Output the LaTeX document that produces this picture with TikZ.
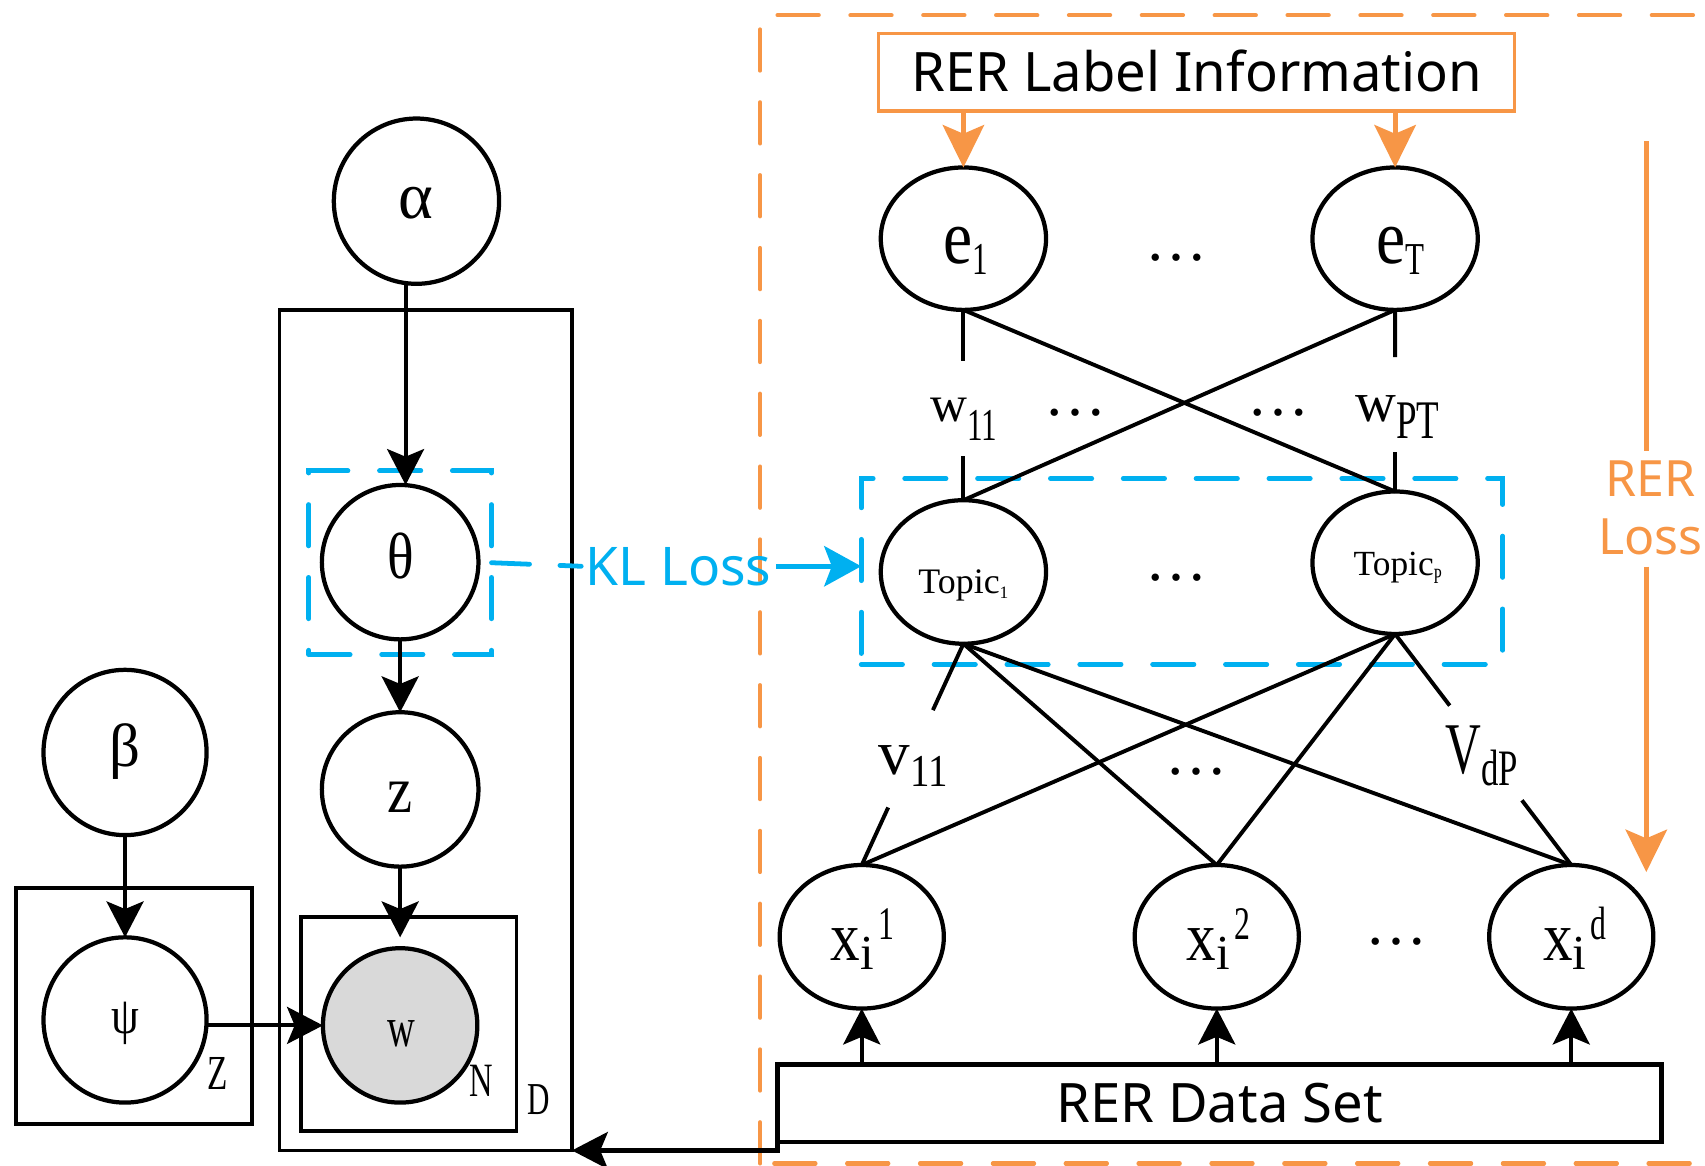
\documentclass[tikz,border=0pt]{standalone}
\usepackage{fontspec}
\setmainfont{Liberation Serif}
\newfontfamily\sA{Liberation Serif}
\newfontfamily\sB[FakeStretch=0.85]{Liberation Serif}
\newfontfamily\sC[FakeStretch=0.68]{Liberation Serif}
\newfontfamily\sansf{Noto Sans}
\usetikzlibrary{arrows.meta,shapes.geometric,calc}
\definecolor{myorange}{HTML}{F79646}
\definecolor{myblue}{HTML}{00B0F0}
\definecolor{mygray}{HTML}{D9D9D9}
\newcommand\fsz[1]{\fontsize{#1}{#1}\selectfont}
\begin{document}
\begin{tikzpicture}[x={(0.5pt,0)}, y={(0,-0.5pt)},
  var/.style={ellipse, draw, line width=1.95pt, inner sep=0, outer sep=0},
  plate/.style={rectangle, draw, line width=1.8pt, inner sep=0, outer sep=0},
  bdash/.style={rectangle, draw=myblue, line width=2.2pt, dash pattern=on 19pt off 14.5pt, line cap=round, inner sep=0, outer sep=0},
  arr/.style={line width=1.9pt, -{Stealth[length=16.5pt,width=17pt,inset=3.5pt]}},
  oarr/.style={draw=myorange, line width=2.3pt, -{Stealth[length=19.5pt,width=19pt,inset=4pt, fill=myorange]}},
  link/.style={line width=1.8pt},
  lab/.style={inner sep=0, outer sep=0, anchor=base},
]
\useasboundingbox (0,0) rectangle (1568,1072);
\clip (0,0) rectangle (1568,1072);

% ---------- outer orange dashed frame ----------
\draw[myorange, line width=1.85pt, dash pattern=on 19pt off 14.5pt, line cap=round]
  (699,1070) -- (699,14) -- (1620,14);
\draw[myorange, line width=1.85pt, dash pattern=on 19pt off 14.5pt, line cap=round]
  (712,1070) -- (1620,1070);

% ---------- left: plates ----------
\node[plate, minimum width=134.5pt, minimum height=386.5pt] (Dp) at (391.5,671.5) {};
\node[plate, minimum width=99pt, minimum height=98.5pt] (Np) at (376,941.5) {};
\node[plate, minimum width=108.5pt, minimum height=108.5pt] (Zp) at (123.5,925.5) {};
\node[lab] (Dt) at (495,1025) {\sC\fsz{21pt}D};
\node[lab] (Nt) at (443,1008) {\sC\fsz{22pt}N};
\node[lab] (Zt) at (200,1001.6) {\sC\fsz{22.5pt}Z};

% ---------- left: variables ----------
\node[var, minimum width=76pt, minimum height=76pt] (alpha) at (383,185) {};
\node[var, minimum width=72pt, minimum height=71pt] (theta) at (368,517) {};
\node[var, minimum width=72pt, minimum height=71pt] (z) at (368,726) {};
\node[var, fill=mygray, minimum width=71pt, minimum height=71pt] (w) at (368,943) {};
\node[var, minimum width=75pt, minimum height=76pt] (beta) at (115,692) {};
\node[var, minimum width=75pt, minimum height=76pt] (psi) at (115,938) {};
\node[bdash, minimum width=84pt, minimum height=84.5pt] (thbox) at (368,517.5) {};

\node[lab] (alphat) at (382,200.5) {\sA\fsz{30.5pt}α};
\node[lab] (thetat) at (369,532) {\sB\fsz{30pt}θ};
\node[lab] (zt) at (368,747.6) {\sB\fsz{30.5pt}z};
\node[lab] (wt) at (369,962) {\sC\fsz{26pt}w};
\node[lab] (betat) at (115,705) {\sA\fsz{28pt}β};
\node[lab] (psit) at (115.5,950) {\sB\fsz{24pt}ψ};

\draw[arr] ([xshift=-5pt]alpha.south) -- ([xshift=2.5pt]theta.north);
\draw[arr] (theta.south) -- (z.north);
\draw[arr, shorten >=5pt] (z.south) -- (w.north);
\draw[arr] (beta.south) -- (psi.north);
\draw[arr] (psi.east |- w.west) -- (w.west);

% ---------- right: label information ----------
\node[draw=myorange, line width=1.6pt, minimum width=292.5pt, minimum height=35.5pt,
      inner sep=0, outer sep=0, text height=17.85pt, text depth=0pt,
      font=\sansf\fsz{25pt}] (lbl) at (1100.5,66.5) {RER Label Information};

\node[var, minimum width=76pt, minimum height=65.5pt] (e1) at (886,219.5) {};
\node[var, minimum width=76pt, minimum height=65.5pt] (eT) at (1283,219.5) {};
\node[var, minimum width=76pt, minimum height=66pt] (t1) at (886,526) {};
\node[var, minimum width=76pt, minimum height=65.5pt] (tP) at (1283,517.5) {};
\node[var, minimum width=75.5pt, minimum height=66pt] (x1) at (792.5,861.5) {};
\node[var, minimum width=75.5pt, minimum height=66pt] (x2) at (1119,861.5) {};
\node[var, minimum width=75.5pt, minimum height=66pt] (xd) at (1445,861.5) {};
\node[bdash, minimum width=295pt, minimum height=85.5pt] (tbox) at (1087,525.5) {};

\node[draw, line width=1.9pt, minimum width=406.5pt, minimum height=35.5pt,
      inner sep=0, outer sep=0, font=\sansf\fsz{25pt}] (data) at (1121.5,1014.5) {RER Data Set};

% labels in the ellipses
\node[lab] (e1t) at (888,242) {\sB\fsz{35.5pt}e\raisebox{-5pt}{\sC\fsz{21pt}1}};
\node[lab] (eTt) at (1288,242) {\sB\fsz{35.5pt}e\raisebox{-5pt}{\sC\fsz{21pt}T}};
\node[lab] (t1t) at (886,545.6) {\sA\fsz{16.5pt}Topic\raisebox{-2.3pt}{\fsz{8pt}1}};
\node[lab] (tPt) at (1285.5,528.8) {\sA\fsz{16.25pt}Topic\raisebox{-3.8pt}{\sC\fsz{10pt}P}};
\node[lab] (x1t) at (793,883) {\sB\fsz{32pt}x\raisebox{-4.5pt}{\sA\fsz{22.5pt}i}\kern2pt\raisebox{9.5pt}{\sC\fsz{21.5pt}1}};
\node[lab] (x2t) at (1120.7,883) {\sB\fsz{32pt}x\raisebox{-4.5pt}{\sA\fsz{22.5pt}i}\kern2pt\raisebox{9.5pt}{\sC\fsz{21.5pt}2}};
\node[lab] (xdt) at (1448.5,883) {\sB\fsz{32pt}x\raisebox{-4.5pt}{\sA\fsz{22.5pt}i}\kern2pt\raisebox{9.5pt}{\sC\fsz{21.5pt}d}};

% dots
\node[lab] (d1) at (1082,240) {\sA\fsz{28.5pt}…};
\node[lab] (d2) at (989,382) {\sA\fsz{28.5pt}…};
\node[lab] (d3) at (1176,382) {\sA\fsz{28.5pt}…};
\node[lab] (d4) at (1082,534) {\sA\fsz{28.5pt}…};
\node[lab] (d5) at (1100,712) {\sA\fsz{28.5pt}…};
\node[lab] (d6) at (1284,869) {\sA\fsz{28.5pt}…};

% weight labels
\node[lab] (w11) at (886.5,388) {\sA\fsz{23.5pt}w\raisebox{-8.5pt}{\sC\fsz{21pt}11}};
\node[lab] (wPT) at (1285,388) {\sA\fsz{26pt}w\raisebox{-7.5pt}{\sC\fsz{25pt}PT}};
\node[lab] (v11) at (840,712.7) {\sA\fsz{29pt}v\raisebox{-5.5pt}{\sB\fsz{21pt}11}};
\node[lab] (vdP) at (1362.5,711) {\sC\fsz{33.5pt}V\raisebox{-5.5pt}{\sC\fsz{23.5pt}dP}};

% orange arrows from label information
\draw[oarr] (e1.north |- lbl.south) -- (e1.north);
\draw[oarr] (eT.north |- lbl.south) -- (eT.north);

% e -> topic connections
\draw[link] (e1.south) -- ($(e1.south)!0.27!(t1.north)$);
\draw[link] ($(e1.south)!0.77!(t1.north)$) -- (t1.north);
\draw[link] (eT.south) -- ($(eT.south)!0.26!(tP.north)$);
\draw[link] ($(eT.south)!0.785!(tP.north)$) -- (tP.north);
\draw[link] (e1.south) -- (tP.north);
\draw[link] (eT.south) -- (t1.north);

% topic -> x connections
\draw[link] (t1.south) -- ($(t1.south)!0.30!(x1.north)$);
\draw[link] ($(t1.south)!0.74!(x1.north)$) -- (x1.north);
\draw[link] (t1.south) -- (x2.north);
\draw[link] (t1.south) -- (xd.north);
\draw[link] (tP.south) -- (x1.north);
\draw[link] (tP.south) -- (x2.north);
\draw[link] (tP.south) -- ($(tP.south)!0.31!(xd.north)$);
\draw[link] ($(tP.south)!0.72!(xd.north)$) -- (xd.north);

% data -> x
\draw[arr] (x1.south |- data.north) -- (x1.south);
\draw[arr] (x2.south |- data.north) -- (x2.south);
\draw[arr] (xd.south |- data.north) -- (xd.south);
\draw[arr] (data.south west) |- (Dp.south east);

% KL loss
\node[lab, text=myblue, font=\sansf\fsz{24.5pt}, inner xsep=2pt] (kl) at (624,538) {KL Loss};
\draw[myblue, line width=2.2pt, dash pattern=on 17.5pt off 14pt, line cap=round] (thbox.east) -- (kl.west);
\draw[myblue, line width=2.2pt, -{Stealth[length=17pt,width=18.5pt,inset=3.5pt]}] (kl.east) -- (kl.east -| tbox.west);

% RER loss
\node[text=myorange, align=center, inner sep=0, font=\sansf\fontsize{23pt}{26.5pt}\selectfont] (rerloss) at (1518,467) {RER\\Loss};
\coordinate (rlA) at (1514,130);
\coordinate (rlA1) at (1514,415);
\coordinate (rlB1) at (1514,521);
\coordinate (rlB) at (1514,802);
\draw[myorange, line width=2.3pt] (rlA) -- (rlA1);
\draw[oarr] (rlB1) -- (rlB);
\end{tikzpicture}
\end{document}
